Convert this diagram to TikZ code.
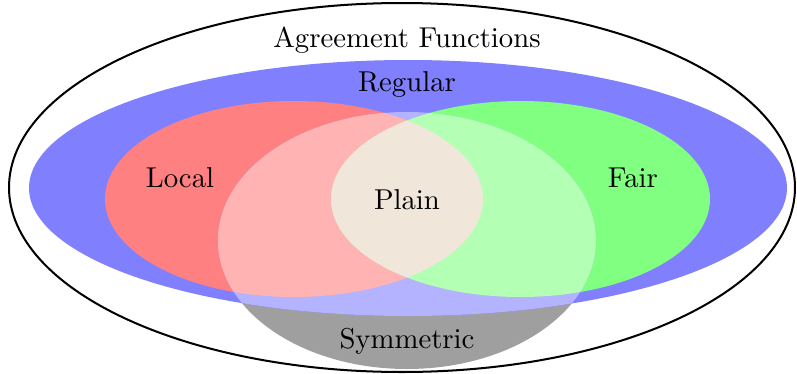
\documentclass[tikz,border=0pt]{standalone}
\begin{document}
\begin{tikzpicture}[x=0.348pt,y=-0.348pt,
  lbl/.style={inner sep=0pt, font=\normalsize}]
\definecolor{symgray}{HTML}{9F9F9F}
\definecolor{regblue}{HTML}{8080FF}
\definecolor{locred}{HTML}{FF8080}
\definecolor{fairgreen}{HTML}{80FF80}
\definecolor{regblueL}{HTML}{B3B3FF}
\definecolor{locredL}{HTML}{FFB3B3}
\definecolor{fairgreenL}{HTML}{B3FFB3}
\definecolor{plainbeige}{HTML}{F0E6DA}
\useasboundingbox (0,0) rectangle (797,374);
% shapes
\fill[symgray] (407,240.5) ellipse [x radius=189, y radius=128.5];
\fill[regblue] (408,188) ellipse [x radius=379, y radius=128];
\fill[locred] (294,199) ellipse [x radius=189, y radius=98];
\fill[fairgreen] (520.5,199) ellipse [x radius=189.5, y radius=98];
\begin{scope}
  \clip (407,240.5) ellipse [x radius=189, y radius=128.5];
  \fill[regblueL] (408,188) ellipse [x radius=379, y radius=128];
  \fill[locredL] (294,199) ellipse [x radius=189, y radius=98];
  \fill[fairgreenL] (520.5,199) ellipse [x radius=189.5, y radius=98];
  \clip (294,199) ellipse [x radius=189, y radius=98];
  \fill[plainbeige] (520.5,199) ellipse [x radius=189.5, y radius=98];
\end{scope}
\draw[line width=0.7pt] (402,187.5) ellipse [x radius=393, y radius=184.5];
% labels
\node[lbl] (agr) at (407,40) {Agreement Functions};
\node[lbl] (reg) at (407,84) {Regular};
\node[lbl] (loc) at (180,178) {Local};
\node[lbl] (fair) at (633,178) {Fair};
\node[lbl] (plain) at (407,200) {Plain};
\node[lbl] (sym) at (407,341) {Symmetric};
\end{tikzpicture}
\end{document}
